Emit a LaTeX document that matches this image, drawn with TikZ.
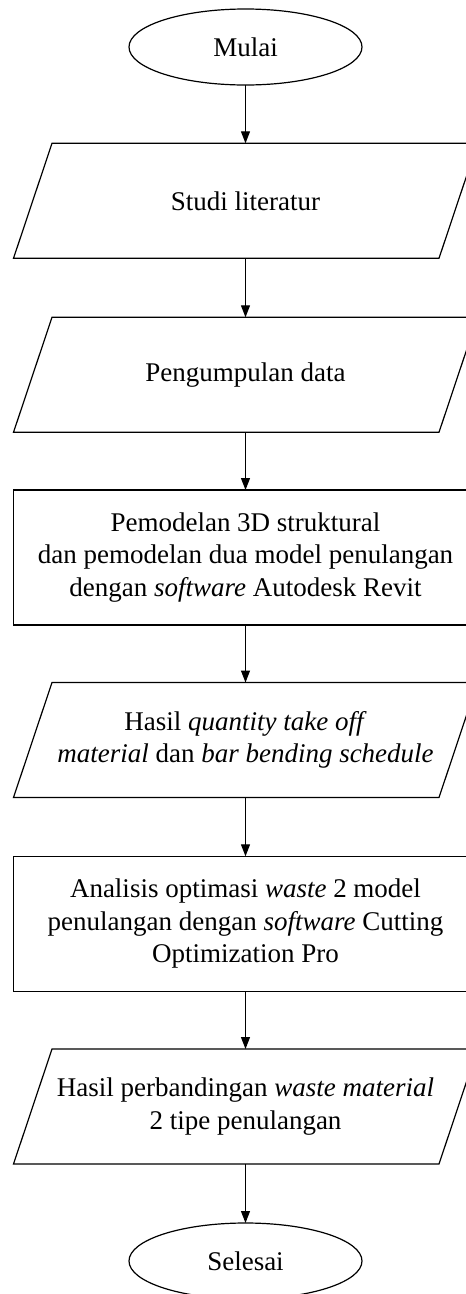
\documentclass[tikz,border=0pt]{standalone}
\usepackage{fontspec}
\setmainfont{Liberation Serif}
\usetikzlibrary{arrows.meta,shapes.geometric}
\tikzset{
  base/.style={line width=1.2pt, align=center, inner sep=0pt, outer sep=0pt,
    font=\fontsize{27}{32.5}\selectfont},
  term/.style={base, draw, ellipse, minimum width=233pt, minimum height=76pt},
  io/.style={base, rectangle, minimum width=425.5pt, minimum height=115pt},
  proc/.style={base, draw, rectangle, minimum width=464pt, minimum height=135pt},
  flow/.style={line width=1.2pt, -{Triangle[length=12pt,width=9pt]}},
  outline/.style={line width=1.2pt, line join=miter}
}
\begin{document}
\begin{tikzpicture}[x=1pt,y=-1pt]
\clip (0,0) rectangle (466,1294);
\fill[white] (0,0) rectangle (466,1294);
\node[term] (e1) at (245.5,47) {Mulai};
\node[io] (p1) at (245.5,200.8) {Studi literatur};
\node[io] (p2) at (245.5,374.8) {Pengumpulan data};
\node[proc] (r3) at (245.5,557.5) {Pemodelan 3D struktural\\dan pemodelan dua model penulangan\\dengan \textit{software} Autodesk Revit};
\node[io] (p4) at (245.5,740) {Hasil \textit{quantity take off}\\\textit{material} dan \textit{bar bending schedule}};
\node[proc] (r5) at (245.5,923.8) {Analisis optimasi \textit{waste} 2 model\\penulangan dengan \textit{software} Cutting\\Optimization Pro};
\node[io] (p6) at (245.5,1106.5) {Hasil perbandingan \textit{waste material}\\2 tipe penulangan};
\node[term] (e2) at (245.5,1261) {Selesai};
\foreach \p in {p1,p2,p4,p6}{
  \draw[outline] ([xshift=-19.25pt]\p.south west) -- ([xshift=-19.25pt]\p.south east)
    -- ([xshift=19.25pt]\p.north east) -- ([xshift=19.25pt]\p.north west) -- cycle;
}
\draw[flow] (e1) -- (p1);
\draw[flow] (p1) -- (p2);
\draw[flow] (p2) -- (r3);
\draw[flow] (r3) -- (p4);
\draw[flow] (p4) -- (r5);
\draw[flow] (r5) -- (p6);
\draw[flow] (p6) -- (e2);
\end{tikzpicture}
\end{document}
